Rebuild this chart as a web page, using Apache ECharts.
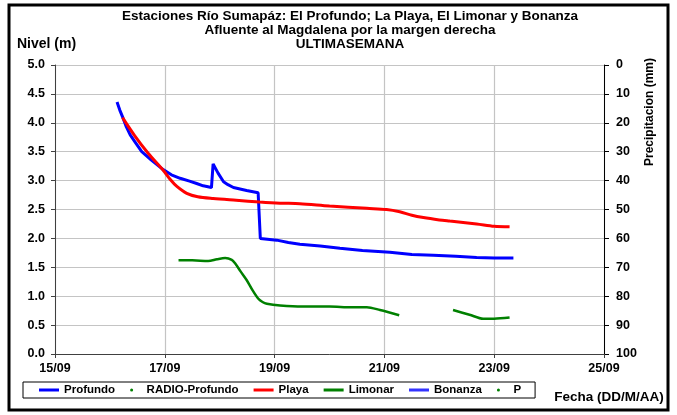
<!DOCTYPE html>
<html>
<head>
<meta charset="utf-8">
<script src="https://cdn.jsdelivr.net/npm/echarts@6/dist/echarts.min.js"></script>
<style>
  html, body { margin: 0; padding: 0; background: #fff; }
  #chart { width: 677px; height: 415px; }
</style>
</head>
<body>
<div id="chart"></div>
<script>
// dias contados desde 15/09 00:00
const diaInicio = 15
const xTicks = [0, 2, 4, 6, 8, 10]

const profundoDia = [1.13, 1.18, 1.24, 1.30, 1.37, 1.45, 1.58, 1.75, 1.97, 2.12, 2.28, 2.45, 2.58, 2.70, 2.85,
  2.88, 2.97, 3.07, 3.15, 3.25, 3.49, 3.70, 3.72, 3.74, 4.04, 4.25, 4.46, 4.83, 5.19, 5.60, 6.10, 6.50, 6.89, 7.30, 7.68, 8.00, 8.35]
const profundoNivel = [4.36, 4.22, 4.08, 3.93, 3.79, 3.68, 3.50, 3.36, 3.19, 3.10, 3.04, 2.99, 2.95, 2.91, 2.88,
  3.29, 3.13, 2.98, 2.93, 2.88, 2.83, 2.79, 2.78, 2.00, 1.97, 1.93, 1.90, 1.87, 1.83, 1.79, 1.76, 1.72, 1.71, 1.69, 1.67, 1.66, 1.66]

const playaDia = [1.23, 1.45, 1.70, 1.97, 2.10, 2.22, 2.40, 2.60, 2.88, 3.30, 3.73, 4.10, 4.46, 5.00, 5.68, 6.04, 6.28, 6.50, 6.71, 7.00, 7.19, 7.68, 8.00, 8.28]
const playaNivel = [4.09, 3.78, 3.47, 3.18, 3.02, 2.90, 2.78, 2.72, 2.69, 2.66, 2.63, 2.61, 2.60, 2.56, 2.52, 2.50, 2.46, 2.40, 2.36, 2.32, 2.30, 2.25, 2.21, 2.20]

const limonarDia = [2.25, 2.50, 2.79, 2.95, 3.10, 3.22, 3.28, 3.38, 3.49, 3.60, 3.70, 3.78, 3.86, 4.10, 4.50, 5.00, 5.40, 5.68, 5.92, 6.27,
  6.80, 7.25, 7.55, 7.80, 8.00, 8.28]
const limonarNivel = [1.62, 1.62, 1.61, 1.64, 1.66, 1.63, 1.57, 1.43, 1.28, 1.10, 0.96, 0.90, 0.87, 0.84, 0.82, 0.82, 0.81, 0.81, 0.76, 0.67,
  null, 0.76, 0.68, 0.61, 0.61, 0.63]

const bonanzaNivel = []
const radioProfundoPrec = []
const pPrec = []

const font = '"Liberation Sans", Arial, sans-serif'
const pares = (xs, ys) => xs.map((x, i) => [x, ys[i]])

const chart = echarts.init(document.getElementById('chart'))

const boldText = (size) => ({ fontFamily: font, fontWeight: 'bold', fontSize: size, color: '#000' })

chart.setOption({
  animation: false,
  grid: { left: 55, right: 73, top: 65, bottom: 61 },
  graphic: [
    {
      type: 'rect', silent: true, z: 100,
      shape: { x: 9, y: 5, width: 659, height: 405 },
      style: { fill: null, stroke: '#000', lineWidth: 3 },
    },
    {
      type: 'text', x: 350, y: 30.5, silent: true,
      style: {
        text: 'Estaciones Río Sumapáz: El Profundo; La Playa, El Limonar y Bonanza\nAfluente al Magdalena por la margen derecha\nULTIMASEMANA',
        align: 'center', verticalAlign: 'middle', lineHeight: 14,
        font: 'bold 13.5px ' + font, fill: '#000',
      },
    },
    {
      type: 'text', x: 17, y: 44, silent: true,
      style: { text: 'Nivel (m)', align: 'left', verticalAlign: 'middle', font: 'bold 14px ' + font, fill: '#000' },
    },
    {
      type: 'text', x: 650, y: 112, rotation: Math.PI / 2, silent: true,
      style: { text: 'Precipitacion (mm)', align: 'center', verticalAlign: 'middle', font: 'bold 12px ' + font, fill: '#000' },
    },
    {
      type: 'text', x: 609, y: 397, silent: true,
      style: { text: 'Fecha (DD/M/AA)', align: 'center', verticalAlign: 'middle', font: 'bold 13.5px ' + font, fill: '#000' },
    },
  ],
  legend: {
    left: 23, top: 382,
    padding: [2, 14, 2, 16],
    itemGap: 15, itemWidth: 20, itemHeight: 3,
    borderColor: '#000', borderWidth: 1,
    textStyle: boldText(11.5),
    data: [
      { name: 'Profundo', icon: 'rect' },
      { name: 'RADIO-Profundo', icon: 'circle' },
      { name: 'Playa', icon: 'rect' },
      { name: 'Limonar', icon: 'rect' },
      { name: 'Bonanza', icon: 'rect' },
      { name: 'P', icon: 'circle' },
    ],
  },
  xAxis: {
    type: 'value', min: xTicks[0], max: xTicks[xTicks.length - 1], interval: 2,
    axisLine: { lineStyle: { color: '#404040', width: 1 } },
    axisTick: { show: true, length: 4, lineStyle: { color: '#404040' } },
    splitLine: { show: true, lineStyle: { color: '#c4c4c4', width: 1.2 } },
    axisLabel: {
      ...boldText(12.5), margin: 8,
      formatter: v => (diaInicio + v) + '/09',
    },
  },
  yAxis: [
    {
      type: 'value', min: 0, max: 5, interval: 0.5,
      axisLine: { show: true, lineStyle: { color: '#404040', width: 1 } },
      axisTick: { show: true, length: 4, lineStyle: { color: '#404040' } },
      splitLine: { show: true, lineStyle: { color: '#c4c4c4', width: 1.2 } },
      axisLabel: { ...boldText(12.5), margin: 10, formatter: v => v.toFixed(1) },
    },
    {
      type: 'value', position: 'right', inverse: true, min: 0, max: 100, interval: 10,
      axisLine: { show: true, lineStyle: { color: '#000', width: 1 } },
      axisTick: { show: true, length: 5, lineStyle: { color: '#000' } },
      splitLine: { show: false },
      axisLabel: { ...boldText(12.5), margin: 12 },
    },
  ],
  series: [
    {
      name: 'Profundo', type: 'line', color: '#0000ff', symbol: 'none',
      lineStyle: { width: 3 }, data: pares(profundoDia, profundoNivel),
    },
    {
      name: 'RADIO-Profundo', type: 'line', yAxisIndex: 1, color: '#008000', symbol: 'circle', symbolSize: 3,
      lineStyle: { width: 0 }, data: radioProfundoPrec,
    },
    {
      name: 'Playa', type: 'line', color: '#ff0000', symbol: 'none', smooth: 0.3,
      lineStyle: { width: 3 }, data: pares(playaDia, playaNivel),
    },
    {
      name: 'Limonar', type: 'line', color: '#008000', symbol: 'none', smooth: 0.3, connectNulls: false,
      lineStyle: { width: 2.5 }, data: pares(limonarDia, limonarNivel),
    },
    {
      name: 'Bonanza', type: 'line', color: '#3333ff', symbol: 'none',
      lineStyle: { width: 1.5 }, data: bonanzaNivel,
    },
    {
      name: 'P', type: 'line', yAxisIndex: 1, color: '#008000', symbol: 'circle', symbolSize: 2,
      lineStyle: { width: 0 }, data: pPrec,
    },
  ],
})
</script>
</body>
</html>
